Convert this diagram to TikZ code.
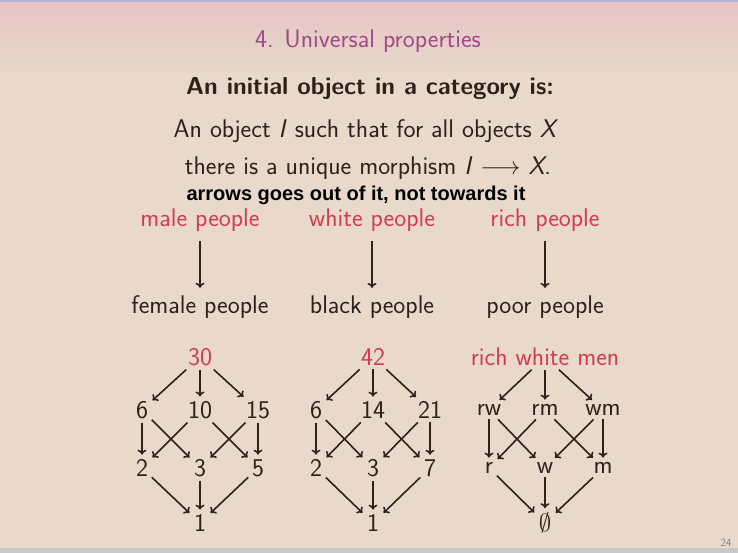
\documentclass[tikz,border=0pt]{standalone}
\usepackage{fontspec}
\newfontfamily\notefont{Liberation Sans}
\usetikzlibrary{arrows.meta}
\definecolor{slidebg}{HTML}{E8D9CB}
\definecolor{slidetop}{HTML}{E6C3C4}
\definecolor{framegray}{HTML}{C9C9C9}
\definecolor{framelav}{HTML}{B8B4D4}
\definecolor{titlepurple}{HTML}{9E4A86}
\definecolor{hired}{HTML}{D23C50}
\definecolor{ink}{HTML}{2B221C}

\begin{document}
\begin{tikzpicture}[x=1pt, y=-1pt, line width=1.6pt,
  font=\sffamily\fontsize{25.5}{30}\selectfont,
  >={To[length=5pt,width=9pt]},
  obj/.style={inner sep=3pt, text=ink},
  hl/.style={obj, text=hired},
  arr/.style={->, draw=ink, shorten >=1pt},
  longarr/.style={arr, shorten <=6pt, shorten >=4pt}]
% 背景
\useasboundingbox (0,0) rectangle (738,553);
\fill[slidebg] (0,0) rectangle (738,553);
\shade[top color=slidetop, bottom color=slidebg] (0,0) rectangle (738,75);
\fill[framelav] (0,0) rectangle (738,2);
\fill[framegray] (0,548) rectangle (738,553);

% 标题与定义
\node[text=titlepurple] (title) at (368,41) {4. Universal properties};
\node[obj, font=\sffamily\bfseries\fontsize{24.5}{30}\selectfont] (head) at (370,89) {An initial object in a category is:};
\node[obj] (line1) at (366,131) {An object \textsl{I} such that for all objects \textsl{X}};
\node[obj] (line2) at (368,168) {there is a unique morphism \textsl{I} $\longrightarrow$ \textsl{X}.};
\node[text=black, font=\notefont\bfseries\fontsize{20}{24}\selectfont] (note) at (356,195) {arrows goes out of it, not towards it};
\node[text=gray, font=\sffamily\fontsize{11}{13}\selectfont] (page) at (726,543) {24};

% 三个例子
\node[hl] (male) at (200,220) {male people};
\node[hl] (white) at (372,220) {white people};
\node[hl] (rich) at (545,220) {rich people};
\node[obj] (female) at (200,307) {female people};
\node[obj] (black) at (372,307) {black people};
\node[obj] (poor) at (545,307) {poor people};
\draw[longarr] (male) -- (female);
\draw[longarr] (white) -- (black);
\draw[longarr] (rich) -- (poor);

% 30 的因子
\node[hl] (a30) at (200,357) {30};
\node[obj] (a6) at (142,410) {6};
\node[obj] (a10) at (200,410) {10};
\node[obj] (a15) at (258,410) {15};
\node[obj] (a2) at (142,468) {2};
\node[obj] (a3) at (200,468) {3};
\node[obj] (a5) at (258,468) {5};
\node[obj] (a1) at (200,523) {1};
\draw[arr] (a30) -- (a6);
\draw[arr] (a30) -- (a10);
\draw[arr] (a30) -- (a15);
\draw[arr] (a6) -- (a2);
\draw[arr] (a6) -- (a3);
\draw[arr] (a10) -- (a2);
\draw[arr] (a10) -- (a5);
\draw[arr] (a15) -- (a3);
\draw[arr] (a15) -- (a5);
\draw[arr] (a2) -- (a1);
\draw[arr] (a3) -- (a1);
\draw[arr] (a5) -- (a1);

% 42 的因子
\node[hl] (b42) at (373,357) {42};
\node[obj] (b6) at (316,410) {6};
\node[obj] (b14) at (373,410) {14};
\node[obj] (b21) at (430,410) {21};
\node[obj] (b2) at (316,468) {2};
\node[obj] (b3) at (373,468) {3};
\node[obj] (b7) at (430,468) {7};
\node[obj] (b1) at (373,523) {1};
\draw[arr] (b42) -- (b6);
\draw[arr] (b42) -- (b14);
\draw[arr] (b42) -- (b21);
\draw[arr] (b6) -- (b2);
\draw[arr] (b6) -- (b3);
\draw[arr] (b14) -- (b2);
\draw[arr] (b14) -- (b7);
\draw[arr] (b21) -- (b3);
\draw[arr] (b21) -- (b7);
\draw[arr] (b2) -- (b1);
\draw[arr] (b3) -- (b1);
\draw[arr] (b7) -- (b1);

% rich white men
\node[hl] (ctop) at (545,357) {rich white men};
\node[obj] (crw) at (489,410) {rw};
\node[obj] (crm) at (545,410) {rm};
\node[obj] (cwm) at (603,410) {wm};
\node[obj] (cr) at (489,468) {r};
\node[obj] (cw) at (545,468) {w};
\node[obj] (cm) at (603,468) {m};
\node[obj] (c0) at (545,523) {$\emptyset$};
\draw[arr] (ctop) -- (crw);
\draw[arr] (ctop) -- (crm);
\draw[arr] (ctop) -- (cwm);
\draw[arr] (crw) -- (cr);
\draw[arr] (crw) -- (cw);
\draw[arr] (crm) -- (cr);
\draw[arr] (crm) -- (cm);
\draw[arr] (cwm) -- (cw);
\draw[arr] (cwm) -- (cm);
\draw[arr] (cr) -- (c0);
\draw[arr] (cw) -- (c0);
\draw[arr] (cm) -- (c0);
\end{tikzpicture}
\end{document}
